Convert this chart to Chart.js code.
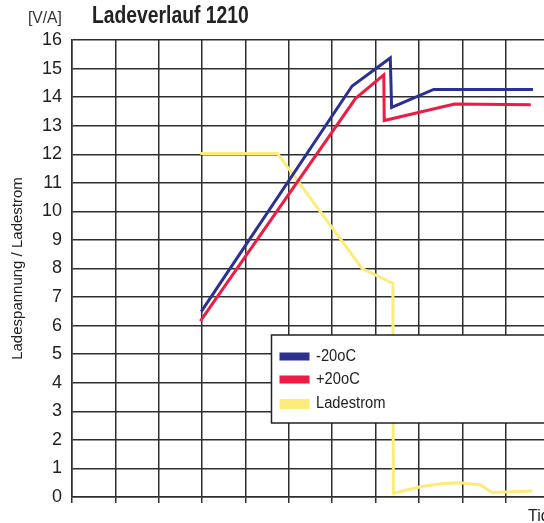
<!DOCTYPE html>
<html>
<head>
<meta charset="utf-8">
<script src="https://cdn.jsdelivr.net/npm/chart.js@4.4.1/dist/chart.umd.min.js"></script>
<style>
  html, body { margin: 0; padding: 0; background: #fff; overflow: hidden; }
  #wrap { width: 560px; height: 523px; }
</style>
</head>
<body>
<div id="wrap"><canvas id="chart" width="560" height="523"></canvas></div>
<script>
// Ladeverlauf 1210
const seriesLabels = ['-20oC', '+20oC', 'Ladestrom'];

const coldX = [2.98, 6.46, 7.34, 7.37, 8.34, 10.63];
const coldY = [6.49, 14.39, 15.37, 13.64, 14.27, 14.27];

const warmX = [2.96, 6.54, 7.19, 7.2, 8.82, 10.58];
const warmY = [6.16, 13.96, 14.78, 13.18, 13.76, 13.73];

const currentX = [2.96, 4.74, 6.69, 7.40, 7.41, 8.04, 8.5, 8.96, 9.42, 9.69, 10.62];
const currentY = [12.03, 12.03, 8.0, 7.48, 0.13, 0.36, 0.46, 0.50, 0.42, 0.16, 0.21];

const yTicks = [0, 1, 2, 3, 4, 5, 6, 7, 8, 9, 10, 11, 12, 13, 14, 15, 16];

const colors = ['#2b3192', '#ec1c45', '#fdeb7c'];
const gridColor = '#2e2e2e';
const textColor = '#222';

function toPoints(xs, ys) {
    return xs.map((x, i) => ({ x: x, y: ys[i] }));
}

// draw text squeezed horizontally (the original uses a condensed face)
function narrowText(ctx, text, x, y, squeeze) {
    ctx.save();
    ctx.translate(x, y);
    ctx.scale(squeeze, 1);
    ctx.fillText(text, 0, 0);
    ctx.restore();
}

// Texts around the plot and the boxed legend
const decorPlugin = {
    id: 'decor',
    afterDraw(chart) {
        const ctx = chart.ctx;
        const area = chart.chartArea;
        ctx.save();

        // unit label and title
        ctx.fillStyle = '#333';
        ctx.font = "17px 'Liberation Sans', Arial, sans-serif";
        ctx.textBaseline = 'middle';
        ctx.textAlign = 'left';
        narrowText(ctx, '[V/A]', 28, 18, 0.92);

        ctx.fillStyle = textColor;
        ctx.font = "bold 23px 'Liberation Sans', Arial, sans-serif";
        narrowText(ctx, 'Ladeverlauf 1210', 92, 17, 0.84);

        // y axis title
        ctx.font = "15px 'Liberation Sans', Arial, sans-serif";
        ctx.save();
        ctx.translate(18, (area.top + area.bottom) / 2);
        ctx.rotate(-Math.PI / 2);
        ctx.textAlign = 'center';
        ctx.fillText('Ladespannung / Ladestrom', 0, 0);
        ctx.restore();

        // x axis title (cut off at the right edge)
        ctx.font = "16px 'Liberation Sans', Arial, sans-serif";
        ctx.textAlign = 'left';
        ctx.fillText('Tid', 528, 517);

        // legend box
        const bx = 271.5, by = 335, bh = 88;
        ctx.fillStyle = '#fff';
        ctx.fillRect(bx, by, chart.width - bx + 5, bh);
        ctx.strokeStyle = '#222';
        ctx.lineWidth = 1.5;
        ctx.strokeRect(bx, by, chart.width - bx + 5, bh);

        const rows = [356.5, 379.5, 404];
        ctx.font = "16px 'Liberation Sans', Arial, sans-serif";
        chart.data.datasets.forEach((ds, i) => {
            ctx.fillStyle = ds.borderColor;
            const h = i === 2 ? 10 : 8;
            ctx.fillRect(279.5, rows[i] - h / 2, 30, h);
            ctx.fillStyle = textColor;
            narrowText(ctx, ds.label, 316, rows[i], 0.92);
        });

        ctx.restore();
    }
};

const ctx = document.getElementById('chart').getContext('2d');

const chart = new Chart(ctx, {
    type: 'line',
    data: {
        datasets: [
            { label: seriesLabels[0], data: toPoints(coldX, coldY), borderColor: colors[0] },
            { label: seriesLabels[1], data: toPoints(warmX, warmY), borderColor: colors[1] },
            { label: seriesLabels[2], data: toPoints(currentX, currentY), borderColor: colors[2] }
        ]
    },
    options: {
        responsive: false,
        animation: false,
        devicePixelRatio: 1,
        layout: {
            padding: { top: 40, right: 11, bottom: 0, left: 0 }
        },
        elements: {
            line: { borderWidth: 3, tension: 0, fill: false },
            point: { radius: 0 }
        },
        scales: {
            x: {
                type: 'linear',
                min: 0,
                max: 11,
                ticks: { display: false, stepSize: 1 },
                grid: {
                    color: gridColor,
                    lineWidth: 1.5,
                    tickLength: 6
                },
                border: { color: gridColor, width: 1.5 },
                afterFit(scale) { scale.height = 26; }
            },
            y: {
                min: 0,
                max: 16,
                afterBuildTicks(scale) {
                    scale.ticks = yTicks.map(v => ({ value: v }));
                },
                ticks: {
                    color: textColor,
                    padding: 10,
                    font: { family: "'Liberation Sans', Arial, sans-serif", size: 18 }
                },
                grid: {
                    color: gridColor,
                    lineWidth: 1.5,
                    drawTicks: false
                },
                border: { color: gridColor, width: 1.5 },
                afterFit(scale) { scale.width = 72; }
            }
        },
        plugins: {
            legend: { display: false },
            tooltip: { enabled: false }
        }
    },
    plugins: [decorPlugin]
});
</script>
</body>
</html>
